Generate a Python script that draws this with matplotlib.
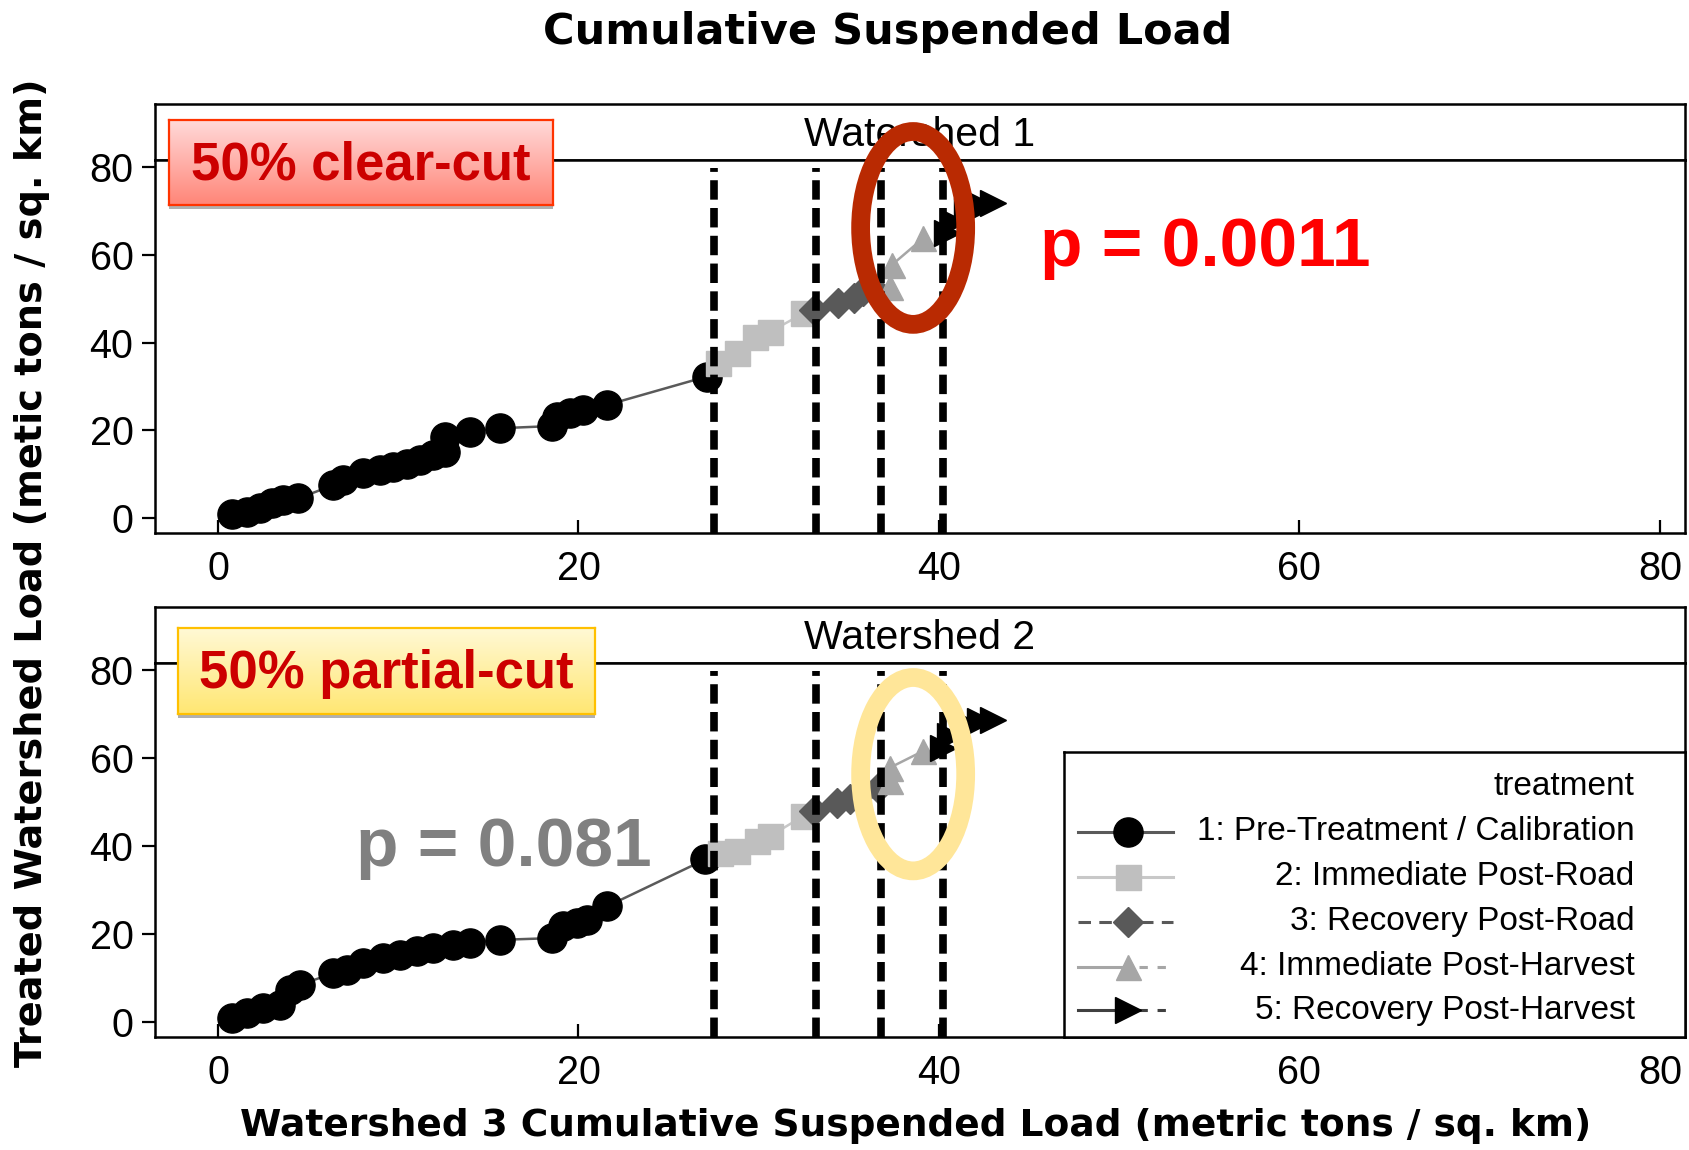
import numpy as np
import matplotlib
matplotlib.use("Agg")
import matplotlib.pyplot as plt
from matplotlib.patches import Ellipse, Rectangle
from matplotlib.colors import to_rgb

plt.rcParams['font.family'] = ['Liberation Sans', 'DejaVu Sans']
plt.rcParams['lines.scale_dashes'] = False

# ---- data ----
ticks = [0, 20, 40, 60, 80]
phase_breaks = [27.5, 33.2, 36.8, 40.25]

# watershed 1
w1_pre_x = [0.79, 1.59, 2.33, 2.98, 3.62, 4.46, 6.40, 6.95, 8.06, 8.99, 9.73, 10.47,
            11.21, 11.95, 12.6, 12.6, 13.98, 15.65, 18.52, 18.8, 19.53, 20.27, 21.57, 27.12]
w1_pre_y = [0.91, 1.44, 2.21, 3.36, 4.11, 4.50, 7.53, 8.68, 10.2, 10.96, 11.7, 12.3,
            13.2, 14.4, 15.1, 18.6, 19.7, 20.5, 21.0, 23.1, 23.9, 24.7, 25.8, 32.3]
w1_road_x = [27.76, 28.78, 29.8, 30.63, 32.48]
w1_road_y = [35.3, 37.6, 41.4, 42.5, 46.7]
w1_recroad_x = [33.07, 34.42, 35.26, 35.81, 36.28]
w1_recroad_y = [47.5, 49.0, 50.2, 51.7, 52.8]
w1_harv_x = [37.3, 37.4, 39.14]
w1_harv_y = [52.8, 57.8, 63.9]
w1_recharv_x = [40.44, 40.8, 41.55, 42.47, 43.02]
w1_recharv_y = [65.0, 67.6, 70.0, 71.2, 71.8]

# watershed 2
w2_pre_x = [0.79, 1.59, 2.51, 3.44, 4.0, 4.55, 6.40, 7.14, 8.06, 9.17, 10.1, 11.03,
            11.95, 13.06, 13.98, 15.65, 18.52, 19.16, 19.9, 20.46, 21.57, 27.03]
w2_pre_y = [0.87, 2.0, 3.15, 3.92, 7.3, 8.5, 11.1, 11.9, 13.4, 14.5, 15.3, 16.1,
            16.8, 17.6, 18.0, 18.7, 19.1, 21.8, 22.5, 23.3, 26.3, 37.0]
w2_road_x = [27.86, 28.78, 29.9, 30.63, 32.48]
w2_road_y = [38.5, 38.9, 41.2, 42.3, 46.9]
w2_recroad_x = [33.07, 34.33, 35.07, 35.81, 36.64]
w2_recroad_y = [48.0, 49.9, 50.7, 52.6, 53.3]
w2_harv_x = [37.29, 37.29, 39.14]
w2_harv_y = [54.8, 57.9, 61.7]
w2_recharv_x = [40.25, 40.6, 41.55, 42.29, 43.02]
w2_recharv_y = [62.4, 65.1, 67.8, 68.4, 68.8]

treatments = ['1: Pre-Treatment / Calibration', '2: Immediate Post-Road',
              '3: Recovery Post-Road', '4: Immediate Post-Harvest',
              '5: Recovery Post-Harvest']
panels = ['Watershed 1', 'Watershed 2']
cut_labels = ['50% clear-cut', '50% partial-cut']
p_labels = ['p = 0.0011', 'p = 0.081']

# ---- styles ----
styles = [
    dict(marker='o', ms=21, mfc='black', mec='black', color='#5A5A5A', ls='-'),
    dict(marker='s', ms=18, mfc='#BFBFBF', mec='#BFBFBF', color='#C8C8C8', ls='-'),
    dict(marker='D', ms=15, mfc='#595959', mec='#595959', color='#595959', ls='--'),
    dict(marker='^', ms=18, mfc='#A6A6A6', mec='#A6A6A6', color='#A6A6A6', ls='-'),
    dict(marker='>', ms=19, mfc='black', mec='black', color='#404040', ls='-'),
]

fig = plt.figure(figsize=(16.9, 11.5), dpi=100)

W, H = 1690.0, 1150.0
left, right = 155 / W, 1685 / W
panel_px = [(104, 160, 533), (607, 663, 1037)]

series = [
    [(w1_pre_x, w1_pre_y), (w1_road_x, w1_road_y), (w1_recroad_x, w1_recroad_y),
     (w1_harv_x, w1_harv_y), (w1_recharv_x, w1_recharv_y)],
    [(w2_pre_x, w2_pre_y), (w2_road_x, w2_road_y), (w2_recroad_x, w2_recroad_y),
     (w2_harv_x, w2_harv_y), (w2_recharv_x, w2_recharv_y)],
]

ell_centers = [(38.57, 66.2), (38.57, 56.4)]
ell_colors = ['#B92A02', '#FFE699']
p_pos = [(45.6, 57.5), (7.64, 35.6)]
p_colors = ['#FF0000', '#808080']
box_px = [(169, 120, 553, 205), (178, 628, 595, 714)]
box_top = ['#FFD9D9', '#FFF9D6']
box_bot = ['#FF8678', '#FFE773']
box_edge = ['#FF3300', '#FFC000']

for i in range(2):
    top_px, head_px, bot_px = panel_px[i]
    # facet header strip
    ax_s = fig.add_axes([left, 1 - head_px / H, right - left, (head_px - top_px) / H])
    ax_s.set_xticks([])
    ax_s.set_yticks([])
    for sp in ax_s.spines.values():
        sp.set_linewidth(1.8)
    ax_s.text(0.5, 0.45, panels[i], ha='center', va='center', fontsize=29.5,
              transform=ax_s.transAxes)
    ax_s.set_zorder(1)

    ax = fig.add_axes([left, 1 - bot_px / H, right - left, (bot_px - head_px) / H])
    ax.set_zorder(3)
    for (xs, ys), st in zip(series[i], styles):
        ax.plot(xs, ys, lw=1.8, zorder=3, **st)
    for xb in phase_breaks:
        ax.plot([xb, xb], [-3.4, 79.8], color='black', lw=5.5, ls=(0, (14, 6)), zorder=4)
    ax.set_xlim(-3.5, 81.4)
    ax.set_ylim(-3.4, 81.7)
    ax.set_xticks(ticks)
    ax.set_yticks(ticks)
    ax.tick_params(axis='x', direction='in', length=9.5, width=1.6, pad=12, labelsize=28.5)
    ax.tick_params(axis='y', direction='out', length=9.5, width=1.6, pad=6, labelsize=28.5)
    for sp in ax.spines.values():
        sp.set_linewidth(1.8)

    ell = Ellipse(ell_centers[i], 5.83, 44.0, fill=False, ec=ell_colors[i], lw=13.5,
                  zorder=6, clip_on=False)
    ax.add_patch(ell)
    ax.text(p_pos[i][0], p_pos[i][1], p_labels[i], color=p_colors[i], fontsize=50,
            fontweight='bold', ha='left', va='baseline', zorder=7)

    # labelled box with gradient
    x0, y0, x1, y1 = box_px[i]
    # shadow strip
    fig.patches.append(Rectangle((x0 / W, 1 - (y1 + 4) / H), (x1 - x0) / W, 4 / H,
                                 transform=fig.transFigure, fc='#B0B0B0', ec='none',
                                 zorder=8))
    bx = fig.add_axes([x0 / W, 1 - y1 / H, (x1 - x0) / W, (y1 - y0) / H])
    bx.set_zorder(9)
    c_top = np.array(to_rgb(box_top[i]))
    c_bot = np.array(to_rgb(box_bot[i]))
    frac = np.linspace(0, 1, 64)[:, None, None]
    grad = c_top * (1 - frac) + c_bot * frac
    bx.imshow(grad, aspect='auto', extent=[0, 1, 0, 1])
    bx.set_xticks([])
    bx.set_yticks([])
    for sp in bx.spines.values():
        sp.set_color(box_edge[i])
        sp.set_linewidth(1.6)
    bx.text(0.5, 0.47, cut_labels[i], ha='center', va='center', fontsize=38,
            fontweight='bold', color='#CC0000', transform=bx.transAxes)

# ---- legend drawn by hand in its own box ----
lg = fig.add_axes([1064 / W, 1 - 1037 / H, (1685 - 1064) / W, (1037 - 752) / H])
lg.set_zorder(10)
lg.set_xlim(0, 1)
lg.set_ylim(0, 1)
lg.set_xticks([])
lg.set_yticks([])
for sp in lg.spines.values():
    sp.set_linewidth(1.8)
lg.text(0.919, 0.878, 'treatment', ha='right', va='center', fontsize=24)
rows = [0.720, 0.5625, 0.4046, 0.2467, 0.0947]
for r, st, lab, k in zip(rows, styles, treatments, range(5)):
    lc = st['color']
    if k in (0, 1):
        lg.plot([0.022, 0.176], [r, r], color=lc, lw=2.2, ls='-')
    elif k == 2:
        lg.plot([0.022, 0.176], [r, r], color=lc, lw=2.2, ls=(0, (9, 6)))
    else:
        lg.plot([0.022, 0.10], [r, r], color=lc, lw=2.2, ls='-')
        lg.plot([0.12, 0.176], [r, r], color=lc, lw=2.2, ls=(0, (6, 7)))
    lg.plot([0.103], [r], ls='none', marker=st['marker'], ms=st['ms'],
            mfc=st['mfc'], mec=st['mec'])
    lg.text(0.919, r, lab, ha='right', va='center', fontsize=24)

# ---- titles ----
fig.text(0.525, 0.972, 'Cumulative Suspended Load', ha='center', va='center',
         fontsize=31, fontweight='bold', family='DejaVu Sans')
fig.text(0.542, 0.021, 'Watershed 3 Cumulative Suspended Load (metric tons / sq. km)',
         ha='center', va='center', fontsize=27, fontweight='bold', family='DejaVu Sans')
fig.text(0.019, 0.502, 'Treated Watershed Load (metic tons / sq. km)', ha='center',
         va='center', rotation=90, fontsize=27.5, fontweight='bold', family='DejaVu Sans')

fig.savefig('out.png', dpi=100)
